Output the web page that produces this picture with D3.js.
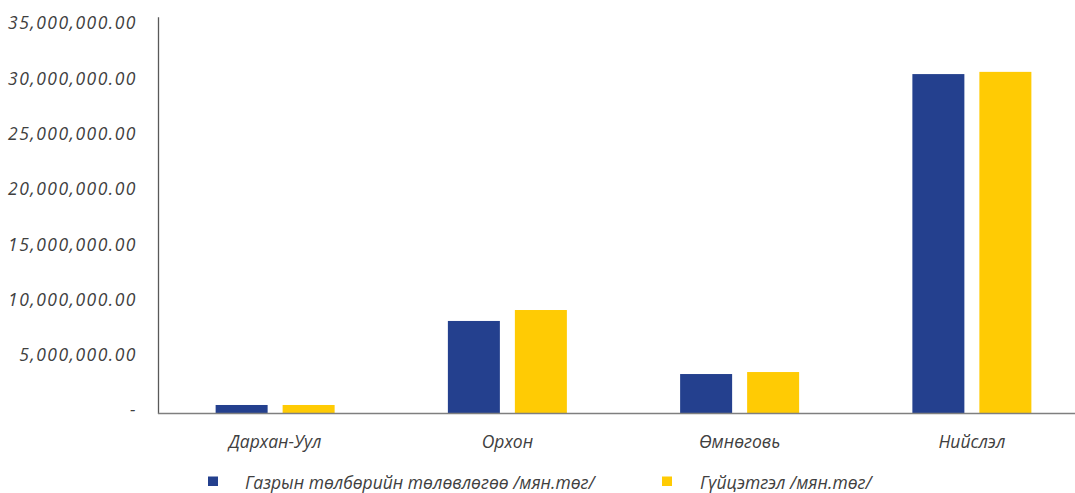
<!DOCTYPE html>
<html><head><meta charset="utf-8">
<script src="https://cdn.jsdelivr.net/npm/d3@7"></script>
<style>
body{margin:0;background:#fff;}
text{font-family:"Open Sans","Noto Sans",sans-serif;font-style:italic;font-weight:400;fill:#404040;}
</style></head>
<body><svg id="c" width="1075" height="493"></svg>
<script>
const categories = ["Дархан-Уул","Орхон","Өмнөговь","Нийслэл"];
const seriesNames = ["Газрын төлбөрийн төлөвлөгөө /мян.төг/","Гүйцэтгэл /мян.төг/"];
const planValues = [770000, 8370000, 3570000, 30700000];
const actualValues = [770000, 9360000, 3750000, 30900000];
const colors = ["#24408e","#ffcb04"];
const yTicks = [0,5000000,10000000,15000000,20000000,25000000,30000000,35000000];

(function(){
const svg = d3.select("#c");
const pl = 158, pr = 1088, pt = 16.7, pb = 413.5;
const x = d3.scaleBand().domain(categories).range([pl + 1, pr]);
const y = d3.scaleLinear().domain([0,35890000]).range([pb, pt]);

const fmt = v => v === 0 ? "-" : d3.format(",.2f")(v);
const yAxis = d3.axisLeft(y).tickValues(yTicks).tickFormat(fmt).tickSize(0).tickPadding(21);
const ga = svg.append("g").attr("transform",`translate(${pl},0)`).call(yAxis);
ga.select(".domain").attr("stroke","#595959").attr("stroke-width",1.3);
ga.selectAll("text").attr("font-size",17.5).attr("dy","0.14em").attr("letter-spacing","1.5px").style("font-family",null);

const data = categories.map((c,i)=>({c, vals:[planValues[i], actualValues[i]]}));
const bw = 52;
const g = svg.append("g");
data.forEach(d=>{
  const cx = x(d.c) + x.bandwidth()/2;
  d.vals.forEach((v,j)=>{
    const bx = cx - 59.5 + j*(bw+15);
    g.append("rect").attr("x",bx).attr("width",bw).attr("y",y(v)).attr("height",pb - y(v)).attr("fill",colors[j]);
  });
});

svg.append("line").attr("x1",pl).attr("x2",1075).attr("y1",pb).attr("y2",pb).attr("stroke","#7f7f7f").attr("stroke-width",1.5);

const xAxis = d3.axisBottom(x).tickSize(0).tickPadding(0);
const gx = svg.append("g").attr("transform",`translate(0,${pb})`).call(xAxis);
gx.select(".domain").remove();
gx.selectAll("text").attr("font-size",17.5).attr("y",34).attr("dy","0").style("font-family",null);

const legX = [208, 662];
seriesNames.forEach((n,i)=>{
  svg.append("rect").attr("x",legX[i]).attr("y",476.5).attr("width",10).attr("height",9.5).attr("fill",colors[i]);
  svg.append("text").attr("x",legX[i]+(i===0?37:38)).attr("y",489).attr("font-size",17.5).text(n);
});
})();
</script></body></html>
